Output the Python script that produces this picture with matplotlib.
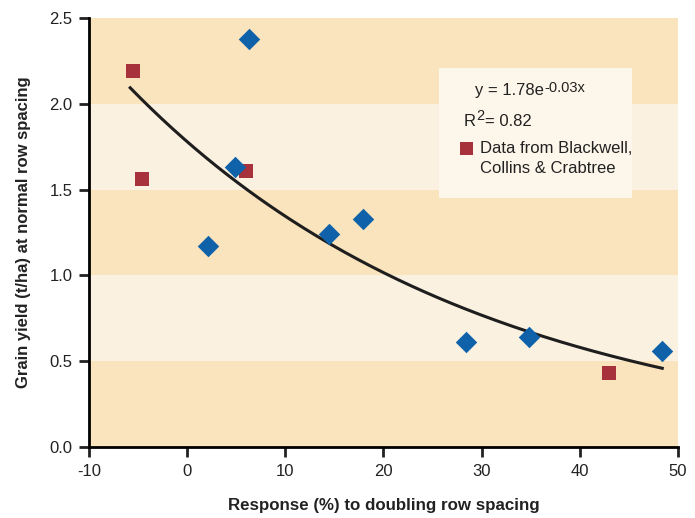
import numpy as np
import matplotlib.pyplot as plt
from matplotlib.patches import Rectangle

plt.rcParams['font.family'] = ['Liberation Sans', 'DejaVu Sans']

# Данные: синие ромбы
blue_x = [6.3, 4.9, 2.1, 14.5, 17.9, 28.4, 34.8, 48.4]
blue_y = [2.38, 1.63, 1.17, 1.24, 1.33, 0.61, 0.64, 0.56]

# Данные Blackwell, Collins & Crabtree (красные квадраты)
red_x = [-5.5, -4.6, 6.0, 43.0]
red_y = [2.19, 1.56, 1.61, 0.43]

# Параметры тренда
fit_a = 1.78
fit_b = -0.028
fit_x_range = [-5.8, 48.4]

xticks = [-10, 0, 10, 20, 30, 40, 50]
yticks = [0.0, 0.5, 1.0, 1.5, 2.0, 2.5]

dark_band = '#f9e4bd'
light_band = '#fbf1e1'
txt = '#222222'

fig = plt.figure(figsize=(6.95, 5.18), dpi=100)
ax = fig.add_axes([0.128, 0.137, 0.8475, 0.828])
ax.set_xlim(-10, 50)
ax.set_ylim(0, 2.5)

# Полосы фона
for i in range(5):
    c = dark_band if i % 2 == 0 else light_band
    ax.axhspan(i * 0.5, (i + 1) * 0.5, color=c, lw=0, zorder=0)

xs = np.linspace(fit_x_range[0], fit_x_range[1], 200)
ax.scatter(red_x, red_y, marker='s', s=110, color='#a8323b', lw=0, zorder=2)
ax.plot(xs, fit_a * np.exp(fit_b * xs), color='#1e1e1e', lw=2.2, zorder=3)
ax.scatter(blue_x, blue_y, marker='D', s=120, color='#0f62aa', lw=0, zorder=4)

# Блок с уравнением
ax.add_patch(Rectangle((25.7, 1.45), 19.6, 0.76, facecolor='#fdf6ea', edgecolor='none', zorder=5))
t_eq = ax.text(29.3, 2.08, 'y = 1.78e', fontsize=12, color=txt, va='center', zorder=6)
ax.annotate('-0.03x', xy=(1, 1), xycoords=t_eq, xytext=(0.3, 1.5), textcoords='offset points',
            ha='left', va='top', fontsize=10.5, color=txt, zorder=6)
t_r = ax.text(28.2, 1.895, 'R', fontsize=12, color=txt, va='center', zorder=6)
t_2 = ax.annotate('2', xy=(1, 1), xycoords=t_r, xytext=(0.2, 4), textcoords='offset points',
                  ha='left', va='top', fontsize=10.5, color=txt, zorder=6)
ax.annotate('= 0.82', xy=(1, 0.5), xycoords=(t_2, t_r), xytext=(0.5, 0), textcoords='offset points',
            ha='left', va='center', fontsize=12, color=txt, zorder=6)
ax.add_patch(Rectangle((27.8, 1.702), 1.35, 0.076, facecolor='#a8323b', edgecolor='none', zorder=6))
ax.text(29.8, 1.742, 'Data from Blackwell,', fontsize=12, color=txt, va='center', zorder=6)
ax.text(29.8, 1.625, 'Collins & Crabtree', fontsize=12, color=txt, va='center', zorder=6)

ax.set_xticks(xticks)
ax.set_yticks(yticks)
ax.set_xticklabels([str(t) for t in xticks])
ax.set_yticklabels(['%.1f' % t for t in yticks])
for s in ['top', 'right']:
    ax.spines[s].set_visible(False)
for s in ['left', 'bottom']:
    ax.spines[s].set_linewidth(2)
ax.tick_params(direction='out', length=7, width=2, labelsize=12, colors=txt, pad=5)

ax.set_xlabel('Response (%) to doubling row spacing', fontsize=12.2, fontweight='bold',
              color=txt, labelpad=14)
ax.set_ylabel('Grain yield (t/ha) at normal row spacing', fontsize=12, fontweight='bold',
              color=txt, labelpad=13)

plt.savefig('out.png', dpi=100)
